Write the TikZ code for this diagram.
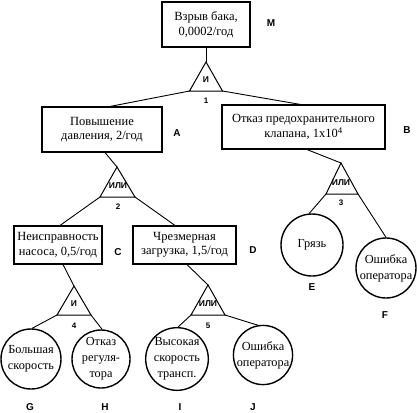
\documentclass[tikz,border=0pt]{standalone}
\usepackage{fontspec}
\setmainfont{Liberation Serif}
\newfontfamily\lsans{Liberation Sans}
\begin{document}
\begin{tikzpicture}[x=1pt,y=-1pt,
  every node/.style={inner sep=0pt},
  evbox/.style={draw,line width=1.1pt,align=center,font=\fontsize{12.5}{14.5}\selectfont},
  evcirc/.style={draw,circle,line width=1.4pt,align=center,font=\fontsize{12.3}{16}\selectfont},
  conn/.style={line width=0.9pt},
  gate/.style={line width=1pt,line join=miter},
  gtext/.style={font=\lsans\bfseries\fontsize{8.5}{9}\selectfont},
  gnum/.style={font=\lsans\bfseries\fontsize{8}{9}\selectfont},
  lab/.style={font=\lsans\bfseries\fontsize{10}{11}\selectfont}]
\useasboundingbox (0,0) rectangle (417,412);

% boxes
\node[evbox,minimum width=88pt,minimum height=45pt] (M) at (206,24.5) {Взрыв бака,\\0,0002/год};
\node[evbox,minimum width=120pt,minimum height=45pt] (A) at (102,129.5) {Повышение\\давления, 2/год};
\node[evbox,minimum width=163pt,minimum height=44pt] (B) at (303.5,127) {Отказ предохранительного\\клапана, 1x10\textsuperscript{4}};
\node[evbox,minimum width=88pt,minimum height=38pt] (C) at (58,245) {Неисправность\\насоса, 0,5/год};
\node[evbox,minimum width=103pt,minimum height=38pt] (D) at (184.5,245) {Чрезмерная\\загрузка, 1,5/год};

% circles
\node[evcirc,minimum size=62pt] (E) at (312,245) {Грязь};
\node[evcirc,minimum size=60pt] (F) at (386,268) {Ошибка\\оператора};
\node[evcirc,minimum size=60pt] (G) at (31,359) {Большая\\скорость};
\node[evcirc,minimum size=58pt] (H) at (101,359) {Отказ\\регуля-\\тора};
\node[evcirc,minimum size=58pt] (I) at (177,359) {Высокая\\скорость\\трансп.};
\node[evcirc,minimum size=56pt] (J) at (263,355) {Ошибка\\оператора};

% gates
\coordinate (g1) at (206,62);
\draw[gate] (g1) -- ++(-16.5,29) coordinate (g1l) -- ++(33,0) coordinate (g1r) -- cycle;
\coordinate (g2) at (117,167);
\draw[gate] (g2) -- ++(-17,30) coordinate (g2l) -- ++(35,0) coordinate (g2r) -- cycle;
\coordinate (g3) at (341,163);
\draw[gate] (g3) -- ++(-15,31) coordinate (g3l) -- ++(32,0) coordinate (g3r) -- cycle;
\coordinate (g4) at (74,286);
\draw[gate] (g4) -- ++(-17,29) coordinate (g4l) -- ++(34,0) coordinate (g4r) -- cycle;
\coordinate (g5) at (208,285);
\draw[gate] (g5) -- ++(-17,30) coordinate (g5l) -- ++(34,0) coordinate (g5r) -- cycle;

\node[gtext] (t1) at (206,80) {И};
\node[gtext] (t2) at (118,186) {ИЛИ};
\node[gtext] (t3) at (341,183) {ИЛИ};
\node[gtext] (t4) at (74,304) {И};
\node[gtext] (t5) at (208,304) {ИЛИ};
\node[gnum] (n1) at (206,101) {1};
\node[gnum] (n2) at (118,207) {2};
\node[gnum] (n3) at (341,203) {3};
\node[gnum] (n4) at (74,326) {4};
\node[gnum] (n5) at (208,326) {5};

% connectors
\draw[conn] (M.south) -- (g1);
\draw[conn] (g1l) -- ([xshift=8pt]A.north);
\draw[conn] (g1r) -- ([xshift=-3pt]B.north);
\draw[conn] ([xshift=3pt]A.south) -- (g2);
\draw[conn] (g2l) -- ([xshift=2pt]C.north);
\draw[conn] (g2r) -- ([xshift=-9.5pt]D.north);
\draw[conn] ([xshift=3.5pt]B.south) -- (g3);
\draw[conn] (g3l) -- (E.95);
\draw[conn] (g3r) -- (F.north);
\draw[conn] ([xshift=5pt]C.south) -- (g4);
\draw[conn] (g4l) -- (G.88);
\draw[conn] (g4r) -- (H.88);
\draw[conn] ([xshift=2.5pt]D.south) -- (g5);
\draw[conn] (g5l) -- (I.88);
\draw[conn] (g5r) -- (J.100);

% labels
\node[lab] (lM) at (271,23) {M};
\node[lab] (lA) at (177,133) {A};
\node[lab] (lB) at (407,130) {B};
\node[lab] (lC) at (118,252) {C};
\node[lab] (lD) at (253,250) {D};
\node[lab] (lE) at (312,287) {E};
\node[lab] (lF) at (385,315) {F};
\node[lab] (lG) at (30,407) {G};
\node[lab] (lH) at (105,407) {H};
\node[lab] (lI) at (180,407) {I};
\node[lab] (lJ) at (253,407) {J};
\end{tikzpicture}
\end{document}
